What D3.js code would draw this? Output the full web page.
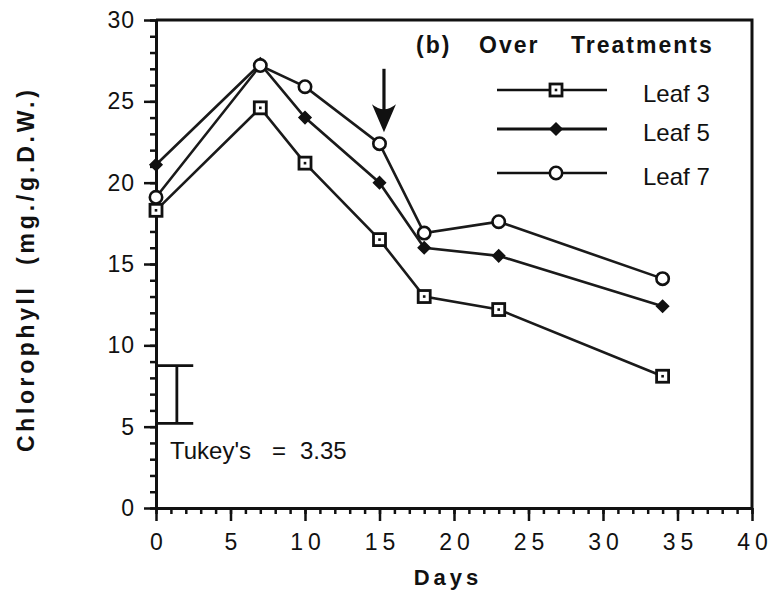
<!DOCTYPE html>
<html>
<head>
<meta charset="utf-8">
<script src="https://cdn.jsdelivr.net/npm/d3@7"></script>
<style>
  body { margin: 0; background: #fff; }
  svg { font-family: "Liberation Sans", Arial, sans-serif; }
</style>
</head>
<body>
<div class="chart"></div>
<script>
// chlorophyll over days, leaves 3 / 5 / 7
const days = [0, 7, 10, 15, 18, 23, 34];
const leaf3 = [18.3, 24.6, 21.2, 16.5, 13.0, 12.2, 8.1];
const leaf5 = [21.1, 27.3, 24.0, 20.0, 16.0, 15.5, 12.4];
const leaf7 = [19.1, 27.2, 25.9, 22.4, 16.9, 17.6, 14.1];
const seriesNames = ["Leaf 3", "Leaf 5", "Leaf 7"];
const xTicks = [0, 5, 10, 15, 20, 25, 30, 35, 40];
const yTicks = [0, 5, 10, 15, 20, 25, 30];
const tukeyLow = 5.2, tukeyHigh = 8.75;
const arrowDay = 15.3, arrowTop = 27.0, arrowBottom = 23.1;

const margin = ({top: 20, right: 21, bottom: 87, left: 156});
const width = 773 - margin.left - margin.right,
    height = 595 - margin.top - margin.bottom;

const svg = d3.select(".chart").append("svg")
    .attr("width", 773)
    .attr("height", 595);
const g = svg.append("g")
    .attr("transform", "translate(" + margin.left + "," + margin.top + ")");

const xScale = d3.scaleLinear().domain([0, 40]).range([0, width]);
const yScale = d3.scaleLinear().domain([0, 30]).range([height, 0]);

// minor ticks
g.append("g")
    .attr("transform", "translate(0," + height + ")")
    .call(d3.axisBottom(xScale).tickValues(d3.range(0, 41)).tickSize(6).tickFormat(""))
    .call(a => a.select(".domain").remove());
g.append("g")
    .call(d3.axisLeft(yScale).tickValues(d3.range(0, 31)).tickSize(6).tickFormat(""))
    .call(a => a.select(".domain").remove());

// major ticks
const xAxis = g.append("g")
    .attr("transform", "translate(0," + height + ")")
    .call(d3.axisBottom(xScale).tickValues(xTicks).tickSize(13).tickSizeOuter(0).tickPadding(13));
const yAxis = g.append("g")
    .call(d3.axisLeft(yScale).tickValues(yTicks).tickSize(12).tickSizeOuter(0).tickPadding(9));

g.selectAll(".tick line").attr("stroke", "#111").attr("stroke-width", 2.5);
g.selectAll(".domain").attr("stroke", "#111").attr("stroke-width", 3);
xAxis.selectAll("text")
    .attr("font-size", 23).attr("fill", "#111")
    .attr("letter-spacing", 5).attr("dx", 2.5);
yAxis.selectAll("text")
    .attr("font-size", 23).attr("fill", "#111")
    .attr("letter-spacing", 1);

// frame top + right
g.append("path")
    .attr("d", "M0,0H" + width + "V" + height)
    .attr("fill", "none").attr("stroke", "#111").attr("stroke-width", 3);

// lines
const line = d3.line().x((d, i) => xScale(days[i])).y(d => yScale(d));
[leaf3, leaf5, leaf7].forEach(s => {
    g.append("path").datum(s)
        .attr("d", line)
        .attr("fill", "none").attr("stroke", "#1a1a1a").attr("stroke-width", 2.6);
});

function drawMarker(sel, kind) {
    if (kind === 0) {
        sel.append("rect").attr("x", -6).attr("y", -6).attr("width", 12).attr("height", 12)
            .attr("fill", "#fff").attr("stroke", "#111").attr("stroke-width", 2.8);
        sel.append("rect").attr("x", -1.3).attr("y", -1.3).attr("width", 2.6).attr("height", 2.6)
            .attr("fill", "#111");
    } else if (kind === 1) {
        sel.append("path").attr("d", d3.symbol(d3.symbolSquare, 72)())
            .attr("transform", "rotate(45)")
            .attr("fill", "#111").attr("stroke", "#111").attr("stroke-width", 1.5);
    } else {
        sel.append("circle").attr("r", 6.2)
            .attr("fill", "#fff").attr("stroke", "#111").attr("stroke-width", 2.6);
    }
}

[leaf3, leaf5, leaf7].forEach((s, k) => {
    g.selectAll(".m" + k).data(s).enter()
        .append("g").attr("class", "m" + k)
        .attr("transform", (d, i) => "translate(" + xScale(days[i]) + "," + yScale(d) + ")")
        .each(function() { drawMarker(d3.select(this), k); });
});

// arrow
g.append("line")
    .attr("x1", xScale(arrowDay)).attr("x2", xScale(arrowDay))
    .attr("y1", yScale(arrowTop)).attr("y2", yScale(arrowBottom) - 10)
    .attr("stroke", "#111").attr("stroke-width", 3.2);
const ax = xScale(arrowDay), ab = yScale(arrowBottom);
g.append("path")
    .attr("d", "M" + ax + "," + ab + "L" + (ax - 12) + "," + (ab - 28) +
        "Q" + ax + "," + (ab - 18) + " " + (ax + 12) + "," + (ab - 28) + "Z")
    .attr("fill", "#111");

// Tukey bar
const tx = xScale(1.4);
g.append("path")
    .attr("d", "M" + xScale(0) + "," + yScale(tukeyHigh) + "H" + xScale(2.5) +
        "M" + tx + "," + yScale(tukeyHigh) + "V" + yScale(tukeyLow) +
        "M" + xScale(0) + "," + yScale(tukeyLow) + "H" + xScale(2.5))
    .attr("fill", "none").attr("stroke", "#111").attr("stroke-width", 2.8);
svg.append("text").attr("x", 170).attr("y", 459).attr("font-size", 24).attr("fill", "#111").text("Tukey's");
svg.append("text").attr("x", 272).attr("y", 459).attr("font-size", 24).attr("fill", "#111").text("=");
svg.append("text").attr("x", 300).attr("y", 459).attr("font-size", 24).attr("fill", "#111").text("3.35");

// title / legend
const title = svg.append("g").attr("font-size", 23).attr("font-weight", "bold")
    .attr("fill", "#111").attr("letter-spacing", 2);
title.append("text").attr("x", 416).attr("y", 53).text("(b)");
title.append("text").attr("x", 479).attr("y", 53).text("Over");
title.append("text").attr("x", 571).attr("y", 53).text("Treatments");

const legendY = [90, 129, 173];
seriesNames.forEach((name, k) => {
    const lg = svg.append("g").attr("transform", "translate(556," + legendY[k] + ")");
    lg.append("line").attr("x1", -59).attr("x2", 51)
        .attr("stroke", "#111").attr("stroke-width", k === 1 ? 3.2 : 2.6);
    drawMarker(lg, k);
    svg.append("text").attr("x", 643).attr("y", legendY[k] + 12)
        .attr("font-size", 24).attr("fill", "#111").text(name);
});

// axis titles
svg.append("text")
    .attr("x", margin.left + xScale(20) - 6).attr("y", 585)
    .attr("text-anchor", "middle")
    .attr("font-size", 22).attr("font-weight", "bold").attr("letter-spacing", 4)
    .attr("fill", "#111").text("Days");
svg.append("text")
    .attr("transform", "translate(34,452) rotate(-90)")
    .attr("font-size", 23).attr("font-weight", "bold").attr("fill", "#111")
    .attr("textLength", 164).attr("lengthAdjust", "spacing")
    .text("Chlorophyll");
svg.append("text")
    .attr("transform", "translate(34,265) rotate(-90)")
    .attr("font-size", 23).attr("font-weight", "bold").attr("fill", "#111")
    .attr("textLength", 175).attr("lengthAdjust", "spacing")
    .text("(mg./g.D.W.)");
</script>
</body>
</html>
